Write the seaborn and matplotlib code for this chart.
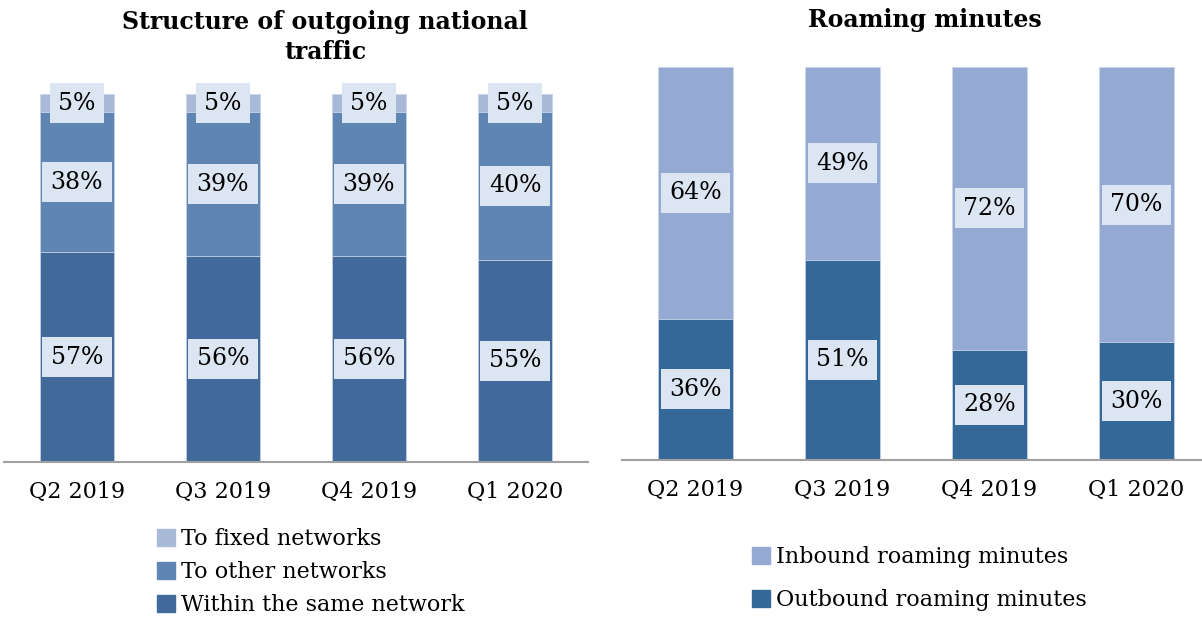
import matplotlib
matplotlib.use("Agg")
import matplotlib.pyplot as plt
from matplotlib.patches import Patch
import pandas as pd
import seaborn as sns

# Data
quarters = ["Q2 2019", "Q3 2019", "Q4 2019", "Q1 2020"]

same_network = [57, 56, 56, 55]
other_networks = [38, 39, 39, 40]
fixed_networks = [5, 5, 5, 5]

outbound = [36, 51, 28, 30]
inbound = [64, 49, 72, 70]

sns.set_theme(style="white")
plt.rcParams["font.family"] = ["DejaVu Serif"]
plt.rcParams["text.color"] = "black"
plt.rcParams["xtick.color"] = "black"

# Colours
c_fixed, c_other, c_same = "#A9BAD8", "#5F86B3", "#416A9B"
c_in, c_out = "#95AAD2", "#346898"
box_col = "#DCE6F2"

fig = plt.figure(figsize=(12.02, 6.17), dpi=100)
ax1 = fig.add_axes([4 / 1202, 155 / 617, 584 / 1202, 368 / 617])
ax2 = fig.add_axes([622 / 1202, 157 / 617, 588 / 1202, 393 / 617])


def stacked(ax, layers, colors):
    # layers bottom -> top; draw cumulative totals from tallest to shortest
    df = pd.DataFrame({"quarter": quarters})
    cum = [0] * len(quarters)
    tops = []
    for vals in layers:
        cum = [a + b for a, b in zip(cum, vals)]
        tops.append(list(cum))
    for top, col in reversed(list(zip(tops, colors))):
        df["v"] = top
        sns.barplot(data=df, x="quarter", y="v", color=col, width=0.507,
                    saturation=1, ax=ax, edgecolor="#C9D5E8", linewidth=0.6)
    # labels
    base = [0] * len(quarters)
    for vals in layers:
        for i, v in enumerate(vals):
            ax.text(i, base[i] + v / 2, f"{v}%", ha="center", va="center",
                    fontsize=17, color="black",
                    bbox=dict(boxstyle="square,pad=0.36", facecolor=box_col,
                              edgecolor="none"))
        base = [a + b for a, b in zip(base, vals)]


stacked(ax1, [same_network, other_networks, fixed_networks], [c_same, c_other, c_fixed])
stacked(ax2, [outbound, inbound], [c_out, c_in])

for ax in (ax1, ax2):
    ax.set_ylim(0, 100)
    ax.set_xlim(-0.5, 3.5)
    ax.set_xlabel("")
    ax.set_ylabel("")
    ax.set_yticks([])
    for s in ("top", "left", "right"):
        ax.spines[s].set_visible(False)
    ax.spines["bottom"].set_color("#A0A0A0")
    ax.spines["bottom"].set_linewidth(1.5)
    ax.tick_params(axis="x", length=0, pad=14, labelsize=16, labelcolor="black")
    ax.patch.set_alpha(0)

fig.text(325 / 1202, 1 - 37 / 617, "Structure of outgoing national\ntraffic", ha="center",
         va="center", fontsize=17, fontweight="bold", linespacing=1.3, color="black")
fig.text(925 / 1202, 1 - 20 / 617, "Roaming minutes", ha="center", va="center",
         fontsize=17, fontweight="bold", color="black")

h1 = [Patch(color=c_fixed), Patch(color=c_other), Patch(color=c_same)]
fig.legend(h1, ["To fixed networks", "To other networks", "Within the same network"],
           loc="upper left", bbox_to_anchor=(157 / 1202, 1 - 528 / 617), frameon=False,
           fontsize=16, handlelength=0.8, handleheight=0.8, handletextpad=0.3,
           labelspacing=0.5, borderpad=0, borderaxespad=0)
h2 = [Patch(color=c_in), Patch(color=c_out)]
fig.legend(h2, ["Inbound roaming minutes", "Outbound roaming minutes"],
           loc="upper left", bbox_to_anchor=(752 / 1202, 1 - 546 / 617), frameon=False,
           fontsize=16, handlelength=0.8, handleheight=0.8, handletextpad=0.3,
           labelspacing=0.95, borderpad=0, borderaxespad=0)

fig.savefig("out.png", dpi=100)
